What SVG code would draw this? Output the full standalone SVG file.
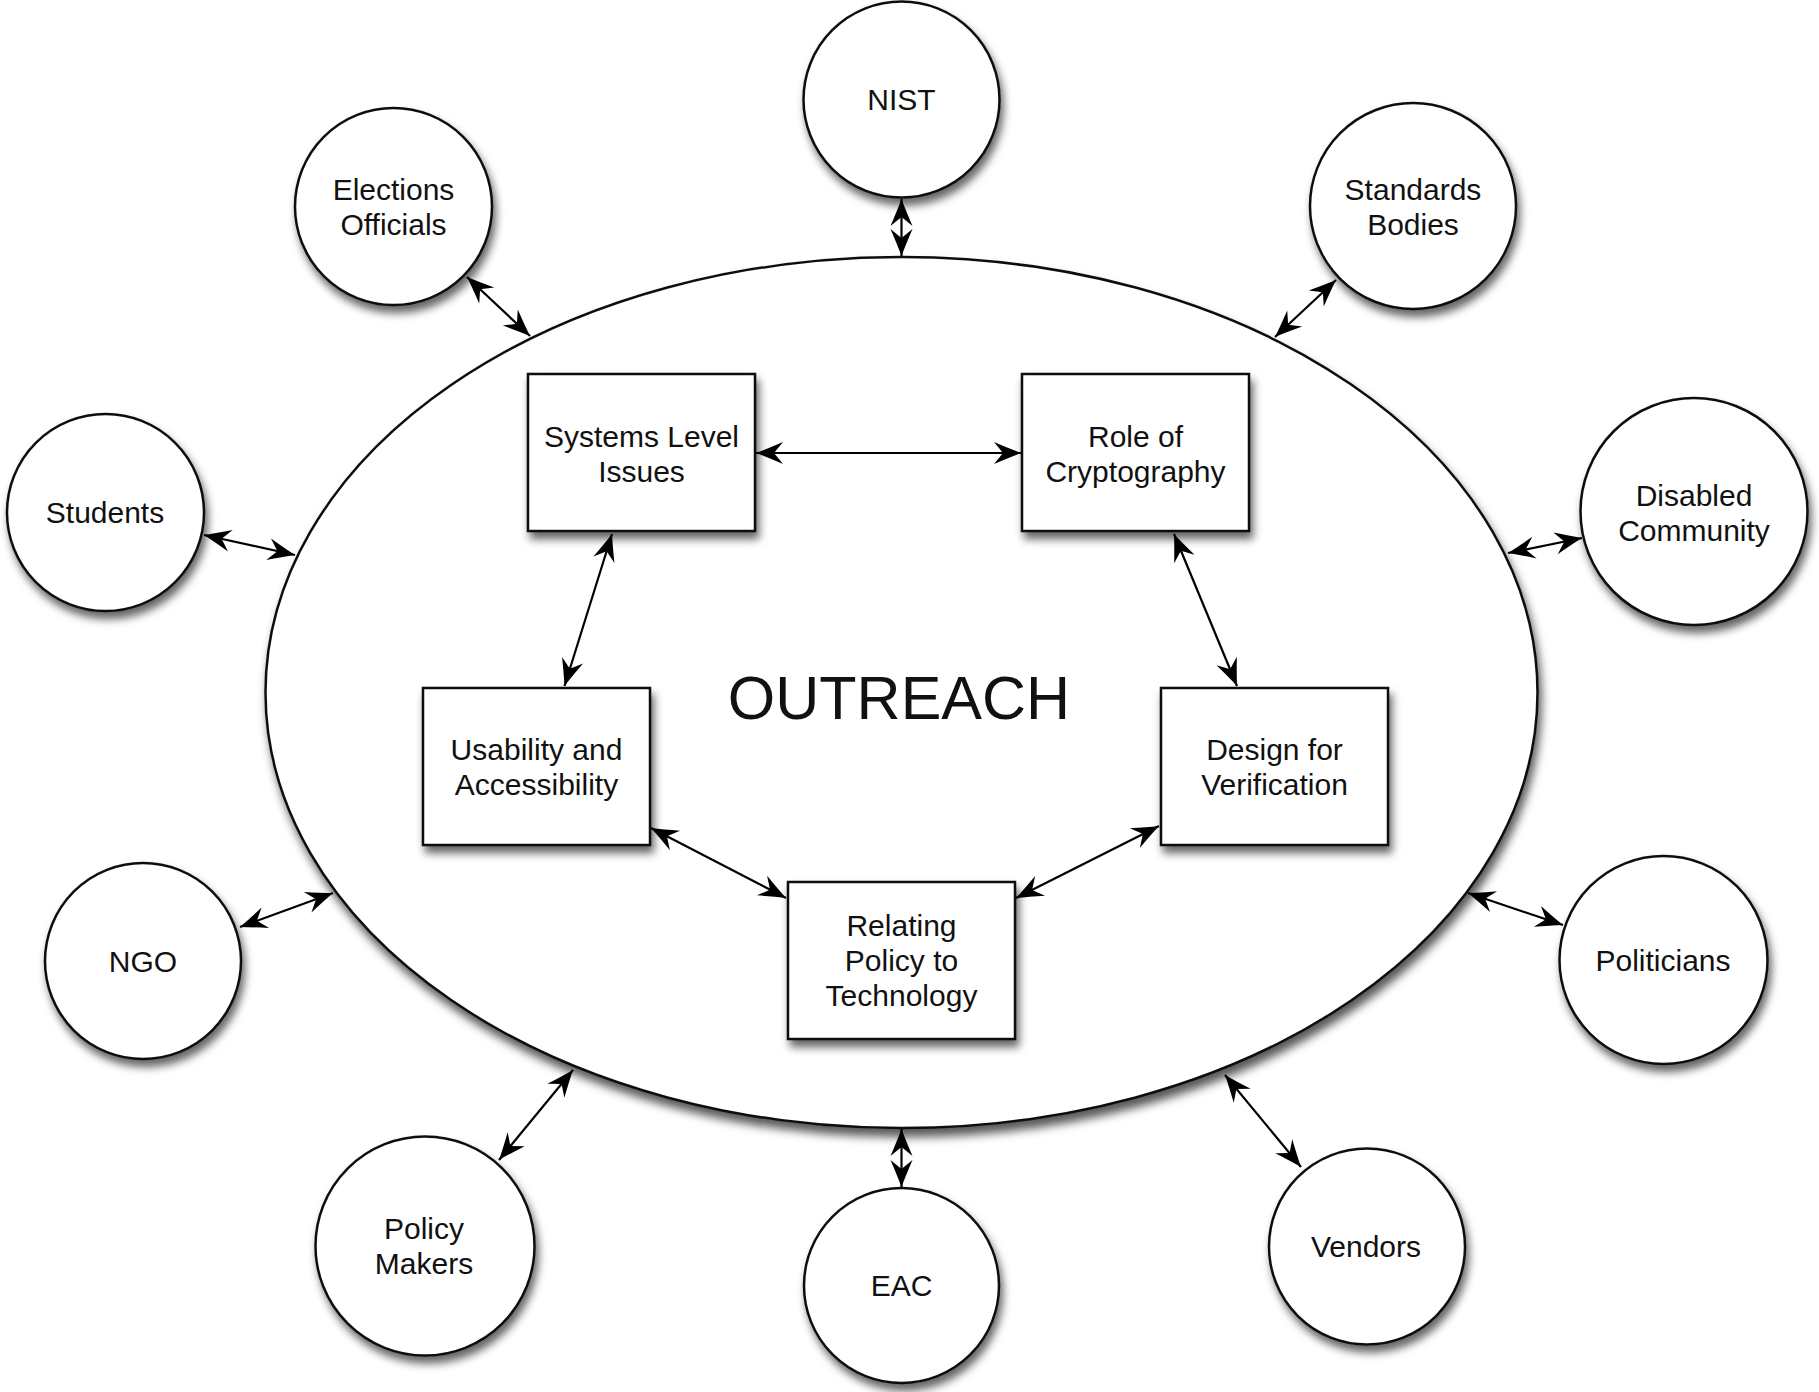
<svg xmlns="http://www.w3.org/2000/svg" width="1819" height="1392" viewBox="0 0 1819 1392">
<style>
.c{fill:#fff;stroke:#111;stroke-width:2.5;filter:url(#sh)}
.b{fill:#fff;stroke:#111;stroke-width:2.5;filter:url(#sh)}
.t{font-family:"Liberation Sans",Arial,Helvetica,sans-serif;font-size:30px;fill:#111;text-anchor:middle}
.big{font-family:"Liberation Sans",Arial,Helvetica,sans-serif;font-size:61px;fill:#111;text-anchor:middle}
.l{fill:none;stroke:#000;stroke-width:2.2;marker-start:url(#ah);marker-end:url(#ah)}
</style>
<defs>
<filter id="sh" x="-20%" y="-20%" width="140%" height="140%">
<feDropShadow dx="3" dy="7" stdDeviation="4.5" flood-color="#000" flood-opacity="0.6"/>
</filter>
<filter id="she" x="-10%" y="-10%" width="120%" height="125%">
<feDropShadow dx="3" dy="8" stdDeviation="5" flood-color="#000" flood-opacity="0.65"/>
</filter>
<marker id="ah" markerUnits="userSpaceOnUse" viewBox="-30 -13 32 26" refX="0" refY="0" markerWidth="32" markerHeight="26" orient="auto-start-reverse">
<path d="M0,0 Q-12,-4.5 -27,-11 L-18,0 L-27,11 Q-12,4.5 0,0 Z" fill="#000"/>
</marker>
</defs>
<rect width="1819" height="1392" fill="#fff"/>

<g id="outreach">
<ellipse cx="901.5" cy="692.5" rx="636" ry="435.5" fill="#fff" stroke="#111" stroke-width="2.5" filter="url(#she)"/>
<text class="big" x="899" y="719">OUTREACH</text>
</g>

<g id="connectors">
<line class="l" x1="901.5" y1="199" x2="901.5" y2="256"/>
<line class="l" x1="901.5" y1="1129" x2="901.5" y2="1187"/>
<line class="l" x1="467" y1="277" x2="530" y2="336"/>
<line class="l" x1="1336" y1="280" x2="1275" y2="337"/>
<line class="l" x1="204" y1="535" x2="295" y2="555"/>
<line class="l" x1="1508" y1="553" x2="1582" y2="538"/>
<line class="l" x1="240" y1="927" x2="333" y2="893"/>
<line class="l" x1="1468" y1="893" x2="1563" y2="925"/>
<line class="l" x1="573" y1="1070" x2="499" y2="1160"/>
<line class="l" x1="1225" y1="1075" x2="1301" y2="1167"/>
<line class="l" x1="756" y1="453" x2="1021" y2="453"/>
<line class="l" x1="612" y1="534" x2="564.5" y2="686"/>
<line class="l" x1="1174" y1="534" x2="1237" y2="686"/>
<line class="l" x1="651" y1="828" x2="786" y2="898"/>
<line class="l" x1="1159" y1="826" x2="1016" y2="898"/>
</g>

<g id="systems">
<rect class="b" x="528" y="374" width="227" height="157"/>
<text class="t" x="641.5" y="447">Systems Level</text>
<text class="t" x="641.5" y="482">Issues</text>
</g>
<g id="crypto">
<rect class="b" x="1022" y="374" width="227" height="157"/>
<text class="t" x="1135.5" y="447">Role of</text>
<text class="t" x="1135.5" y="482">Cryptography</text>
</g>
<g id="usability">
<rect class="b" x="423" y="688" width="227" height="157"/>
<text class="t" x="536.5" y="760">Usability and</text>
<text class="t" x="536.5" y="795">Accessibility</text>
</g>
<g id="design">
<rect class="b" x="1161" y="688" width="227" height="157"/>
<text class="t" x="1274.5" y="760">Design for</text>
<text class="t" x="1274.5" y="795">Verification</text>
</g>
<g id="relating">
<rect class="b" x="788" y="882" width="227" height="157"/>
<text class="t" x="901.5" y="936">Relating</text>
<text class="t" x="901.5" y="971">Policy to</text>
<text class="t" x="901.5" y="1006">Technology</text>
</g>

<g id="nist">
<circle class="c" cx="901.5" cy="99.5" r="98"/>
<text class="t" x="901.5" y="110">NIST</text>
</g>
<g id="elections">
<circle class="c" cx="393.5" cy="206.5" r="98.5"/>
<text class="t" x="393.5" y="200">Elections</text>
<text class="t" x="393.5" y="235">Officials</text>
</g>
<g id="standards">
<circle class="c" cx="1413" cy="206" r="103"/>
<text class="t" x="1413" y="200">Standards</text>
<text class="t" x="1413" y="235">Bodies</text>
</g>
<g id="students">
<circle class="c" cx="105.5" cy="512.5" r="98.5"/>
<text class="t" x="105" y="523">Students</text>
</g>
<g id="disabled">
<circle class="c" cx="1694" cy="511.5" r="113.5"/>
<text class="t" x="1694" y="506">Disabled</text>
<text class="t" x="1694" y="541">Community</text>
</g>
<g id="ngo">
<circle class="c" cx="143" cy="961" r="98"/>
<text class="t" x="143" y="972">NGO</text>
</g>
<g id="politicians">
<circle class="c" cx="1663.5" cy="960" r="104"/>
<text class="t" x="1663" y="971">Politicians</text>
</g>
<g id="policymakers">
<circle class="c" cx="425" cy="1246" r="109.5"/>
<text class="t" x="424" y="1239">Policy</text>
<text class="t" x="424" y="1274">Makers</text>
</g>
<g id="eac">
<circle class="c" cx="901.5" cy="1285.5" r="97.5"/>
<text class="t" x="901.5" y="1296">EAC</text>
</g>
<g id="vendors">
<circle class="c" cx="1367" cy="1246.5" r="98"/>
<text class="t" x="1366" y="1257">Vendors</text>
</g>
</svg>
